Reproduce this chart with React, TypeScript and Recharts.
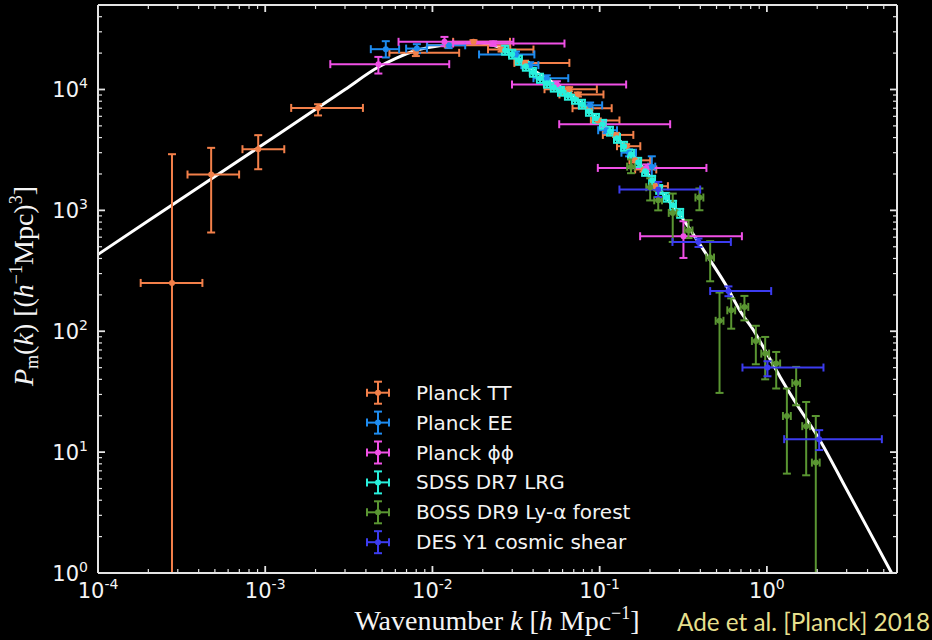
import React from "react";
import { ComposedChart, Line, Scatter, ErrorBar, XAxis, YAxis, Legend } from "recharts";

// theory curve
const curveK = [1e-4, 2e-4, 5e-4, 1e-3, 2e-3, 3e-3, 4.7e-3, 6e-3, 8e-3, 0.0116, 0.0175, 0.025, 0.035, 0.04, 0.05, 0.065, 0.08, 0.1, 0.13, 0.16, 0.2, 0.25, 0.3, 0.38, 0.458, 0.577, 0.692, 0.832, 1.0, 1.2, 1.44, 2.08, 3.0, 4.0, 5.57];
const curveP = [432, 821, 1905, 3610, 6850, 10000, 15200, 18000, 21100, 23300, 24500, 22400, 16500, 14500, 12000, 9500, 7400, 5500, 3850, 2800, 1900, 1270, 930, 575, 387, 233, 147, 102, 65.4, 41.9, 27.5, 12.5, 4.9, 2.35, 1.0];

// Planck TT
const ttK = [2.77e-4, 4.75e-4, 9.08e-4, 2.07e-3, 7.96e-3, 0.01236, 0.0176, 0.0259, 0.0358, 0.0657, 0.0741, 0.0869, 0.0975, 0.1255, 0.144, 0.163, 0.183, 0.215];
const ttP = [251, 1980, 3206, 7040, 20100, 23200, 24800, 21400, 16600, 10050, 9100, 7000, 5540, 4210, 3395, 2594, 2180, 1585];
const ttKLo = [1.8e-4, 3.43e-4, 7.31e-4, 1.43e-3, 5.53e-3, 9.27e-3, 0.0133, 0.0215, 0.0309, 0.0468, 0.0575, 0.0688, 0.0886, 0.1045, 0.127, 0.1507, 0.163, 0.2005];
const ttKHi = [4.21e-4, 6.98e-4, 1.3e-3, 3.84e-3, 0.01445, 0.0292, 0.0291, 0.0402, 0.0659, 0.0962, 0.1054, 0.118, 0.1313, 0.159, 0.175, 0.2005, 0.218, 0.256];
const ttPLo = [1, 656, 2190, 6100, 18900, 22300, 24000, 20600, 15900, 9650, 8750, 6720, 5320, 4040, 3260, 2490, 2090, 1520];
const ttPHi = [2915, 3290, 4190, 7550, 21300, 24100, 25600, 22200, 17300, 10450, 9450, 7280, 5760, 4380, 3530, 2700, 2270, 1650];

// Planck EE
const eeK = [5.26e-3, 8.07e-3, 0.0125, 0.0316, 0.0384, 0.0483, 0.0877, 0.11, 0.15, 0.205];
const eeP = [21550, 21800, 23200, 19500, 15900, 12400, 7400, 4600, 3000, 2300];
const eeKLo = [4.28e-3, 6.96e-3, 9.3e-3, 0.019, 0.034, 0.0402, 0.075, 0.098, 0.135, 0.195];
const eeKHi = [6.32e-3, 9.27e-3, 0.0157, 0.0407, 0.043, 0.0649, 0.1035, 0.127, 0.165, 0.215];
const eePLo = [18400, 20000, 22000, 18500, 15000, 11700, 7000, 4350, 2800, 1900];
const eePHi = [25100, 23700, 24500, 20600, 16800, 13100, 7800, 4850, 3200, 2800];

// Planck phi-phi
const ppK = [4.75e-3, 0.0118, 0.0231, 0.0555, 0.1054, 0.19, 0.317];
const ppP = [16200, 24800, 24000, 11000, 5160, 2245, 611];
const ppKLo = [2.45e-3, 6.27e-3, 0.0133, 0.0299, 0.0573, 0.0975, 0.1746];
const ppKHi = [0.0126, 0.0305, 0.0616, 0.144, 0.264, 0.435, 0.709];
const ppPLo = [13550, 22800, 23000, 10300, 4800, 2100, 404];
const ppPHi = [18600, 27230, 25000, 11700, 5550, 2400, 813];

// SDSS DR7 LRG
const lrgK = [0.0272, 0.03, 0.0329, 0.0362, 0.0399, 0.044, 0.0484, 0.0532, 0.0587, 0.0646, 0.0712, 0.0784, 0.0863, 0.0951, 0.1047, 0.1153, 0.127, 0.14, 0.154, 0.17, 0.187, 0.206, 0.227, 0.25, 0.275, 0.303];
const lrgP = [21150, 19600, 17460, 15590, 13900, 12390, 11270, 10450, 9680, 8970, 8310, 7560, 6610, 5780, 5160, 4520, 3950, 3395, 2913, 2500, 2108, 1776, 1495, 1284, 1103, 946];
const lrgKLo = [0.026, 0.0287, 0.0315, 0.0347, 0.0382, 0.0421, 0.0464, 0.051, 0.0563, 0.062, 0.0683, 0.0752, 0.0828, 0.0912, 0.1004, 0.1106, 0.1218, 0.1343, 0.1477, 0.1631, 0.1794, 0.1976, 0.2177, 0.2398, 0.2638, 0.2906];
const lrgKHi = [0.0284, 0.0313, 0.0343, 0.0377, 0.0416, 0.0459, 0.0504, 0.0554, 0.0611, 0.0672, 0.0741, 0.0816, 0.0898, 0.099, 0.109, 0.12, 0.1322, 0.1457, 0.1603, 0.1769, 0.1946, 0.2144, 0.2363, 0.2602, 0.2862, 0.3154];
const lrgPLo = [19400, 18000, 16000, 14300, 12750, 11350, 10350, 9600, 8880, 8230, 7620, 6940, 6060, 5300, 4730, 4150, 3620, 3110, 2670, 2290, 1930, 1630, 1370, 1180, 1010, 868];
const lrgPHi = [23000, 21300, 19000, 16900, 15100, 13500, 12250, 11350, 10500, 9750, 9030, 8220, 7180, 6280, 5610, 4910, 4290, 3690, 3170, 2720, 2290, 1930, 1620, 1395, 1200, 1028];

// BOSS DR9 Ly-alpha forest
const lyaK = [0.154, 0.2005, 0.224, 0.2735, 0.34, 0.395, 0.458, 0.521, 0.612, 0.734, 0.859, 0.977, 1.137, 1.317, 1.497, 1.718, 1.961];
const lyaP = [2300, 1553, 1211, 953, 682, 1277, 407, 122, 149, 159, 83.1, 65.3, 54.1, 19.9, 37.3, 16.4, 8.19];
const lyaKLo = [0.146, 0.19, 0.212, 0.259, 0.322, 0.374, 0.434, 0.494, 0.58, 0.696, 0.814, 0.926, 1.078, 1.248, 1.419, 1.628, 1.859];
const lyaKHi = [0.162, 0.211, 0.236, 0.289, 0.359, 0.417, 0.483, 0.55, 0.646, 0.774, 0.906, 1.031, 1.2, 1.39, 1.579, 1.812, 2.069];
const lyaPLo = [2030, 1208, 1000, 548, 590, 1002, 259, 30.9, 105, 123, 53.3, 40, 33.6, 6.64, 24.4, 6.43, 1];
const lyaPHi = [2640, 1842, 1450, 1377, 830, 1517, 556, 209, 187, 196, 111, 89.7, 67.4, 33.6, 50.7, 26, 19.9];

// DES Y1 cosmic shear
const desK = [0.224, 0.39, 0.589, 1.008, 2.055];
const desP = [1488, 548, 215, 50.1, 12.8];
const desKLo = [0.1313, 0.2725, 0.458, 0.7145, 1.269];
const desKHi = [0.399, 0.609, 1.061, 2.18, 4.87];
const desPLo = [1290, 498, 195, 42.4, 10.4];
const desPHi = [1720, 585, 235, 56.5, 15.2];

const seriesNames = ["Planck TT", "Planck EE", "Planck ϕϕ", "SDSS DR7 LRG", "BOSS DR9 Ly-α forest", "DES Y1 cosmic shear"];
const seriesColors = ["#f3804a", "#1e8cf0", "#f050e6", "#28f0dc", "#5a9632", "#3c3cf0"];

const xMajors = [1e-4, 1e-3, 1e-2, 1e-1, 1];
const minorMult = [2, 3, 4, 5, 6, 7, 8, 9];
const yMajors = [1, 10, 100, 1000, 10000];

const AX = "#e4e4e4";
const TXT = "#f4f4f4";

function rows(k: number[], p: number[], kLo: number[], kHi: number[], pLo: number[], pHi: number[]) {
  return k.map((kv, i) => ({
    k: kv,
    p: p[i],
    ex: [kv - kLo[i], kHi[i] - kv],
    ey: [p[i] - pLo[i], pHi[i] - p[i]],
  }));
}

const curve = curveK.map((k, i) => ({ k, p: curveP[i] }));
const datasets = [
  rows(ttK, ttP, ttKLo, ttKHi, ttPLo, ttPHi),
  rows(eeK, eeP, eeKLo, eeKHi, eePLo, eePHi),
  rows(ppK, ppP, ppKLo, ppKHi, ppPLo, ppPHi),
  rows(lrgK, lrgP, lrgKLo, lrgKHi, lrgPLo, lrgPHi),
  rows(lyaK, lyaP, lyaKLo, lyaKHi, lyaPLo, lyaPHi),
  rows(desK, desP, desKLo, desKHi, desPLo, desPHi),
];

const xTicks = [
  ...xMajors,
  ...xMajors.slice(0, 4).flatMap((m) => minorMult.map((f) => m * f)),
  2, 3, 4, 5,
];
const yTicks = [
  ...yMajors,
  ...yMajors.slice(0, 4).flatMap((m) => minorMult.map((f) => m * f)),
  20000, 30000, 40000,
];

const isMajor = (v: number) => Math.abs(Math.log10(v) - Math.round(Math.log10(v))) < 1e-6;

function BottomTick(props: any) {
  const { x, y, payload } = props;
  const v = payload.value;
  const major = isMajor(v);
  return (
    <g>
      <line x1={x} y1={y} x2={x} y2={y - (major ? 7 : 4)} stroke={AX} strokeWidth={major ? 1.8 : 1.2} />
      {major && (
        <text x={x} y={y + 25} textAnchor="middle" fill={TXT} fontSize={21} fontFamily="DejaVu Sans">
          10<tspan fontSize={14} dy={-9}>{String(Math.round(Math.log10(v)))}</tspan>
        </text>
      )}
    </g>
  );
}

function TopTick(props: any) {
  const { x, y, payload } = props;
  const major = isMajor(payload.value);
  return <line x1={x} y1={y} x2={x} y2={y + (major ? 7 : 4)} stroke={AX} strokeWidth={major ? 1.8 : 1.2} />;
}

function LeftTick(props: any) {
  const { x, y, payload } = props;
  const v = payload.value;
  const major = isMajor(v);
  return (
    <g>
      <line x1={x} y1={y} x2={x + (major ? 7 : 4)} y2={y} stroke={AX} strokeWidth={major ? 1.8 : 1.2} />
      {major && (
        <text x={x - 10} y={y + 8} textAnchor="end" fill={TXT} fontSize={21} fontFamily="DejaVu Sans">
          10<tspan fontSize={14} dy={-9}>{String(Math.round(Math.log10(v)))}</tspan>
        </text>
      )}
    </g>
  );
}

function RightTick(props: any) {
  const { x, y, payload } = props;
  const major = isMajor(payload.value);
  return <line x1={x} y1={y} x2={x - (major ? 7 : 4)} y2={y} stroke={AX} strokeWidth={major ? 1.8 : 1.2} />;
}

function YLabel() {
  return (
    <text transform="translate(33, 286) rotate(-90)" textAnchor="middle" fill={TXT} fontFamily="Liberation Serif" fontSize={28}>
      <tspan fontStyle="italic">P</tspan>
      <tspan fontSize={18} dy={5}>m</tspan>
      <tspan dy={-5}>(</tspan>
      <tspan fontStyle="italic">k</tspan>
      <tspan>) [(</tspan>
      <tspan fontStyle="italic">h</tspan>
      <tspan fontSize={18} dy={-11}>−1</tspan>
      <tspan dy={11}>Mpc)</tspan>
      <tspan fontSize={18} dy={-11}>3</tspan>
      <tspan dy={11}>]</tspan>
    </text>
  );
}

function XLabel() {
  return (
    <g>
      <text x={497} y={630} textAnchor="middle" fill={TXT} fontFamily="Liberation Serif" fontSize={28}>
        Wavenumber <tspan fontStyle="italic">k</tspan> [<tspan fontStyle="italic">h</tspan> Mpc
        <tspan fontSize={18} dy={-11}>−1</tspan>
        <tspan dy={11}>]</tspan>
      </text>
      <text x={930} y={631} textAnchor="end" fill="#e6df8c" fontFamily="Lato" fontSize={24.3}>
        Ade et al. [Planck] 2018
      </text>
    </g>
  );
}

function LegendBox() {
  return (
    <svg width={320} height={190}>
      {seriesNames.map((name, i) => {
        const cy = 17.7 + 29.9 * i;
        const cx = 23;
        const c = seriesColors[i];
        return (
          <g key={name} stroke={c} strokeWidth={2}>
            <line x1={cx - 11} x2={cx + 11} y1={cy} y2={cy} />
            <line x1={cx - 11} x2={cx - 11} y1={cy - 4} y2={cy + 4} />
            <line x1={cx + 11} x2={cx + 11} y1={cy - 4} y2={cy + 4} />
            <line x1={cx} x2={cx} y1={cy - 11} y2={cy + 11} />
            <line x1={cx - 4} x2={cx + 4} y1={cy - 11} y2={cy - 11} />
            <line x1={cx - 4} x2={cx + 4} y1={cy + 11} y2={cy + 11} />
            <circle cx={cx} cy={cy} r={3} fill={c} stroke="none" />
            <text x={61} y={cy + 7} fill={TXT} stroke="none" fontSize={20} fontFamily="DejaVu Sans">
              {name}
            </text>
          </g>
        );
      })}
    </svg>
  );
}

export default function App() {
  return (
    <div style={{ position: "absolute", left: 0, top: 0, width: 932, height: 640, background: "#000" }}>
      <ComposedChart width={932} height={640} margin={{ top: 4, right: 34, bottom: 0, left: 0 }}>
        <XAxis
          type="number"
          dataKey="k"
          scale="log"
          domain={[1e-4, 6]}
          allowDataOverflow
          ticks={xTicks}
          interval={0}
          tick={<BottomTick />}
          tickLine={false}
          tickSize={0}
          tickMargin={0}
          height={67}
          axisLine={{ stroke: AX, strokeWidth: 2 }}
          label={<XLabel />}
        />
        <XAxis
          xAxisId="top"
          orientation="top"
          type="number"
          dataKey="k"
          scale="log"
          domain={[1e-4, 6]}
          allowDataOverflow
          ticks={xTicks}
          interval={0}
          tick={<TopTick />}
          tickLine={false}
          tickSize={0}
          tickMargin={0}
          height={1}
          axisLine={{ stroke: AX, strokeWidth: 2 }}
        />
        <YAxis
          type="number"
          dataKey="p"
          scale="log"
          domain={[1, 50000]}
          allowDataOverflow
          ticks={yTicks}
          interval={0}
          tick={<LeftTick />}
          tickLine={false}
          tickSize={0}
          tickMargin={0}
          width={98}
          axisLine={{ stroke: AX, strokeWidth: 2 }}
          label={<YLabel />}
        />
        <YAxis
          yAxisId="right"
          orientation="right"
          type="number"
          dataKey="p"
          scale="log"
          domain={[1, 50000]}
          allowDataOverflow
          ticks={yTicks}
          interval={0}
          tick={<RightTick />}
          tickLine={false}
          tickSize={0}
          tickMargin={0}
          width={1}
          axisLine={{ stroke: AX, strokeWidth: 2 }}
        />
        {/* invisible copy so the top and right frame axes have a series */}
        <Line
          xAxisId="top"
          yAxisId="right"
          data={curve}
          dataKey="p"
          stroke="none"
          dot={false}
          isAnimationActive={false}
          legendType="none"
        />
        <Line
          data={curve}
          dataKey="p"
          type="monotone"
          stroke="#ffffff"
          strokeWidth={3}
          dot={false}
          isAnimationActive={false}
          legendType="none"
        />
        {datasets.map((d, i) => {
          const c = seriesColors[i];
          return (
            <Scatter
              key={seriesNames[i]}
              name={seriesNames[i]}
              data={d}
              dataKey="p"
              fill={c}
              isAnimationActive={false}
              legendType="none"
              shape={(p: any) => <circle cx={p.cx} cy={p.cy} r={3} fill={c} />}
            >
              <ErrorBar dataKey="ex" direction="x" width={4} stroke={c} strokeWidth={2} isAnimationActive={false} />
              <ErrorBar dataKey="ey" direction="y" width={4} stroke={c} strokeWidth={2} isAnimationActive={false} />
            </Scatter>
          );
        })}
        <Legend
          layout="vertical"
          align="center"
          verticalAlign="middle"
          content={<LegendBox />}
          wrapperStyle={{ left: 355, top: 375, width: 320, height: 190 }}
        />
      </ComposedChart>
    </div>
  );
}
